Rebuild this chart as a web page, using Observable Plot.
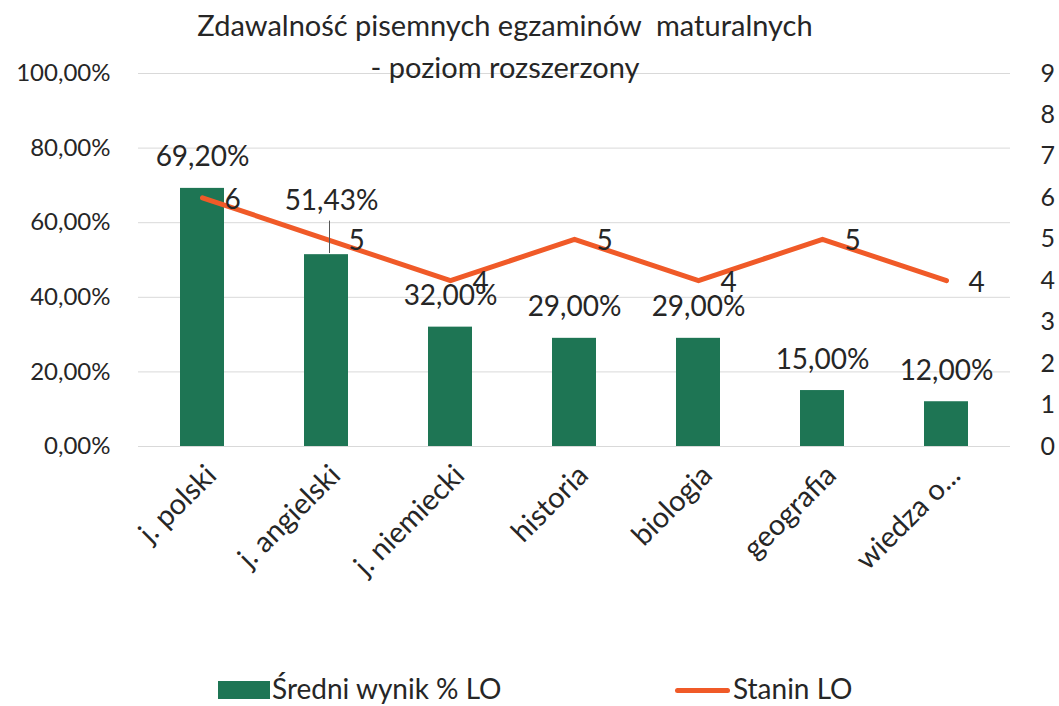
<!DOCTYPE html>
<html><head><meta charset="utf-8">
<script src="https://cdn.jsdelivr.net/npm/d3@7"></script>
<script src="https://cdn.jsdelivr.net/npm/@observablehq/plot@0.6"></script>
<style>
body{margin:0;background:#fff;}
#wrap{position:relative;width:1059px;height:706px;font-family:Lato,sans-serif;color:#262626;overflow:hidden;}
#chart{position:absolute;left:0;top:0;}
#title{position:absolute;left:0;top:4px;width:1010px;text-align:center;font-size:29px;line-height:42px;white-space:pre;}
.lg{position:absolute;font-size:28px;line-height:30px;white-space:nowrap;}
#sw1{position:absolute;left:218px;top:681px;width:52px;height:18px;background:#1e7554;}
#sw2{position:absolute;left:675px;top:688px;width:55px;height:5px;border-radius:3px;background:#f05a28;}
</style></head><body>
<div id="wrap">
<div id="chart"></div>
<div id="title">Zdawalność pisemnych egzaminów  maturalnych
- poziom rozszerzony</div>
<div id="sw1"></div><div class="lg" style="left:272px;top:673px">Średni wynik % LO</div>
<div id="sw2"></div><div class="lg" style="left:733px;top:673px">Stanin LO</div>
</div>
<script>
const categories = ["j. polski","j. angielski","j. niemiecki","historia","biologia","geografia","wiedza o..."];
const results = [69.20, 51.43, 32.00, 29.00, 29.00, 15.00, 12.00];
const stanin = [6, 5, 4, 5, 4, 5, 4];
const leftTicks = [0, 20, 40, 60, 80, 100];
const rightTicks = [0, 1, 2, 3, 4, 5, 6, 7, 8, 9];

const data = categories.map((c, i) => ({cat: c, pct: results[i], stanin: stanin[i], i}));
const toPct = s => s * 100 / 9;
const fmt = v => v.toFixed(2).replace(".", ",") + "%";

const chart = Plot.plot({
  width: 1059, height: 706,
  marginLeft: 138, marginRight: 49, marginTop: 73, marginBottom: 260,
  style: {fontFamily: "Lato, sans-serif", fontSize: "24px", color: "#262626", background: "transparent"},
  x: {domain: categories, paddingInner: 0.645, paddingOuter: 0.3225, axis: null},
  y: {domain: [0, 100], axis: null, label: null},
  marks: [
    Plot.gridY(leftTicks, {stroke: "#d9d9d9", strokeOpacity: 1, strokeWidth: 1}),
    Plot.barY(data, {x: "cat", y: "pct", fill: "#1e7554"}),
    Plot.lineY(data, {x: "cat", y: d => toPct(d.stanin), stroke: "#f05a28", strokeWidth: 5, strokeLinecap: "round", strokeLinejoin: "round"}),
    Plot.ruleX(data.filter(d => d.i === 1), {x: "cat", y1: d => d.pct + 0.3, y2: d => d.pct + 9, stroke: "#555", strokeWidth: 1, dx: 3}),
    Plot.text(data.filter(d => d.i !== 1), {x: "cat", y: "pct", text: d => fmt(d.pct), dy: -31, fontSize: 28, fill: "#262626"}),
    Plot.text(data.filter(d => d.i === 1), {x: "cat", y: "pct", text: d => fmt(d.pct), dx: 5, dy: -54, fontSize: 28, fill: "#262626"}),
    Plot.text(data, {x: "cat", y: d => toPct(d.stanin), text: d => String(d.stanin), dx: 30, dy: 2, fontSize: 28, fill: "#262626"}),
    Plot.axisY(leftTicks, {anchor: "left", tickSize: 0, tickPadding: 28, tickFormat: fmt, fontSize: 24, label: null}),
    Plot.axisY(rightTicks.map(toPct), {anchor: "right", tickSize: 0, tickPadding: 30, tickFormat: d => String(Math.round(d * 9 / 100)), fontSize: 25, label: null}),
    Plot.text(categories, {x: d => d, frameAnchor: "bottom", rotate: -45, textAnchor: "end", lineAnchor: "middle", dx: 9, dy: 24, fontSize: 29, fill: "#262626"})
  ]
});
document.getElementById("chart").appendChild(chart);
</script>
</body></html>
